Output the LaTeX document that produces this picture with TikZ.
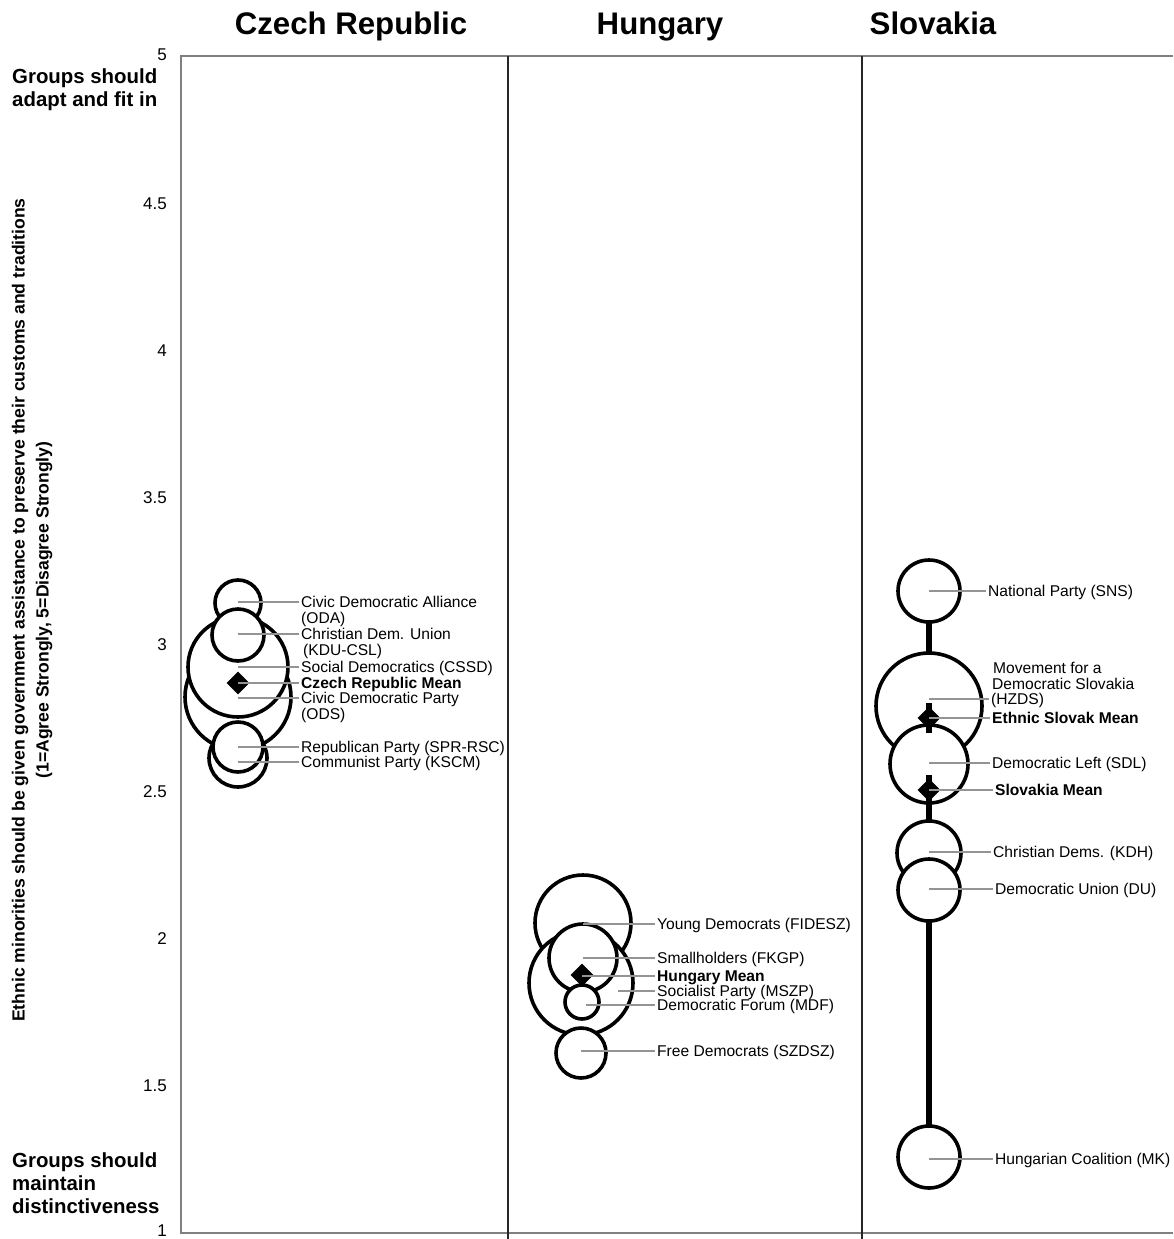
\documentclass[tikz,border=0pt]{standalone}
\usepackage{fontspec}
\setmainfont{Liberation Sans}
\usetikzlibrary{shapes.geometric}
\begin{document}
\begin{tikzpicture}[x=1pt,y=-1pt,
  bubble/.style={circle,draw=black,line width=3.6pt,fill=white,inner sep=0pt,minimum size=#1},
  meanmark/.style={diamond,fill=black,inner sep=0pt,minimum width=23pt,minimum height=23pt},
  lbl/.style={anchor=west,inner sep=0pt,font=\fontsize{15.6}{16}\selectfont,text height=11pt,text depth=0pt},
  blbl/.style={lbl,font=\fontsize{15.6}{16}\selectfont\bfseries},
  conn/.style={draw=black!42,line width=1.5pt,shorten >=2pt},
  tick/.style={anchor=east,inner sep=0pt,font=\fontsize{17}{19}\selectfont,text height=12.2pt,text depth=0pt},
  side/.style={anchor=base west,inner sep=0pt,font=\fontsize{20.4}{22}\selectfont\bfseries},
  ttl/.style={anchor=base,inner sep=0pt,font=\fontsize{31.2}{34}\selectfont\bfseries},
  axt/.style={rotate=90,inner sep=0pt,font=\fontsize{17.6}{19}\selectfont\bfseries},
  frame/.style={draw=black!50,line width=2pt},
  divider/.style={draw=black!85,line width=2.2pt},
  sline/.style={draw=black,line width=6pt}]
\useasboundingbox (0,0) rectangle (1173,1239);
\fill[white] (0,0) rectangle (1173,1239);

% frame
\draw[frame] (1173,56) -- (181,56) -- (181,1233) -- (1173,1233);
\draw[divider] (508,56) -- (508,1239);
\draw[divider] (862,56) -- (862,1239);

% titles
\node[ttl] (tcz) at (351,35) {Czech Republic};
\node[ttl] (thu) at (660,35) {Hungary};
\node[ttl] (tsk) at (933,35) {Slovakia};

% tick labels
\node[tick] (t50) at (167,54) {5};
\node[tick] (t45) at (167,203) {4.5};
\node[tick] (t40) at (167,350) {4};
\node[tick] (t35) at (167,497) {3.5};
\node[tick] (t30) at (167,644) {3};
\node[tick] (t25) at (167,791) {2.5};
\node[tick] (t20) at (167,938) {2};
\node[tick] (t15) at (167,1085) {1.5};
\node[tick] (t10) at (167,1230) {1};

% side labels
\node[side] (ga1) at (12,83) {Groups should};
\node[side] (ga2) at (12,106) {adapt and fit in};
\node[side] (gm1) at (12,1167) {Groups should};
\node[side] (gm2) at (12,1190) {maintain};
\node[side] (gm3) at (12,1213) {distinctiveness};

% axis title
\node[axt] (ax1) at (20,610)
  {Ethnic minorities should be given government assistance to preserve their customs and traditions};
\node[axt] (ax2) at (44,610)
  {(1=Agree Strongly, 5=Disagree Strongly)};

% ---------- Czech Republic ----------
\node[bubble=106pt] (ods) at (238,697) {};
\node[bubble=100pt] (cssd) at (238,667) {};
\node[bubble=46pt] (oda) at (238,603) {};
\node[bubble=52pt] (kdu) at (238,635) {};
\node[bubble=58pt] (kscm) at (238,758) {};
\node[bubble=50pt] (spr) at (238,747) {};
\node[meanmark] (czmean) at (238,683) {};

\node[lbl] (odaL) at (301,602) {Civic Democratic Alliance};
\node[lbl] (odaL2) at (301,618) {(ODA)};
\node[lbl] (kduL) at (301,634) {Christian Dem. Union};
\node[lbl] (kduL2) at (303,650) {(KDU-CSL)};
\node[lbl] (cssdL) at (301,667) {Social Democratics (CSSD)};
\node[blbl] (czmeanL) at (301,683) {Czech Republic Mean};
\node[lbl] (odsL) at (301,698) {Civic Democratic Party};
\node[lbl] (odsL2) at (301,714) {(ODS)};
\node[lbl] (sprL) at (301,747) {Republican Party (SPR-RSC)};
\node[lbl] (kscmL) at (301,762) {Communist Party (KSCM)};

\draw[conn] (oda.center |- odaL.west) -- (odaL.west);
\draw[conn] (kdu.center |- kduL.west) -- (kduL.west);
\draw[conn] (cssd.center |- cssdL.west) -- (cssdL.west);
\draw[conn] (czmean.center |- czmeanL.west) -- (czmeanL.west);
\draw[conn] (ods.center |- odsL.west) -- (odsL.west);
\draw[conn] (spr.center |- sprL.west) -- (sprL.west);
\draw[conn] (kscm.center |- kscmL.west) -- (kscmL.west);

% ---------- Hungary ----------
\node[bubble=96pt] (fidesz) at (583,923) {};
\node[bubble=104pt] (mszp) at (581,983) {};
\node[bubble=68pt] (fkgp) at (583,958) {};
\node[bubble=34pt] (mdf) at (582,1002) {};
\node[bubble=50pt] (szdsz) at (581,1053) {};
\node[meanmark] (humean) at (582,975) {};
\coordinate (mszpP) at (618,991);

\node[lbl] (fideszL) at (657,924) {Young Democrats (FIDESZ)};
\node[lbl] (fkgpL) at (657,958) {Smallholders (FKGP)};
\node[blbl] (humeanL) at (657,976) {Hungary Mean};
\node[lbl] (mszpL) at (657,991) {Socialist Party (MSZP)};
\node[lbl] (mdfL) at (657,1005) {Democratic Forum (MDF)};
\node[lbl] (szdszL) at (657,1051) {Free Democrats (SZDSZ)};

\draw[conn] (fidesz.center |- fideszL.west) -- (fideszL.west);
\draw[conn] (fkgp.center |- fkgpL.west) -- (fkgpL.west);
\draw[conn] (humean.center |- humeanL.west) -- (humeanL.west);
\draw[conn] (mszpP |- mszpL.west) -- (mszpL.west);
\draw[conn] ([xshift=4pt]mdf.center |- mdfL.west) -- (mdfL.west);
\draw[conn] (szdsz.center |- szdszL.west) -- (szdszL.west);

% ---------- Slovakia ----------
\coordinate (sktop) at (929,591);
\coordinate (skbot) at (929,1157);
\draw[sline] (sktop) -- (skbot);
\node[bubble=62pt] (sns) at (sktop) {};
\node[bubble=106pt] (hzds) at (929,706) {};
\node[bubble=78pt] (sdl) at (929,764) {};
\node[bubble=64pt] (kdh) at (929,853) {};
\node[bubble=62pt] (du) at (929,890) {};
\node[bubble=62pt] (mk) at (skbot) {};
\node[meanmark] (esmean) at (929,718) {};
\node[meanmark] (skmean) at (929,790) {};
\draw[sline] (esmean.north) ++(0,-3) -- (esmean.south) -- ++(0,3);
\draw[sline] (skmean.north) ++(0,-3) -- (skmean.south) -- ++(0,3);

\node[lbl] (snsL) at (988,591) {National Party (SNS)};
\node[lbl] (hzdsL1) at (993,668) {Movement for a};
\node[lbl] (hzdsL2) at (992,684) {Democratic Slovakia};
\node[lbl] (hzdsL) at (991,699) {(HZDS)};
\node[blbl] (esmeanL) at (992,718) {Ethnic Slovak Mean};
\node[lbl] (sdlL) at (992,763) {Democratic Left (SDL)};
\node[blbl] (skmeanL) at (995,790) {Slovakia Mean};
\node[lbl] (kdhL) at (993,852) {Christian Dems. (KDH)};
\node[lbl] (duL) at (995,889) {Democratic Union (DU)};
\node[lbl] (mkL) at (995,1159) {Hungarian Coalition (MK)};

\draw[conn] (sns.center |- snsL.west) -- (snsL.west);
\draw[conn] (hzds.center |- hzdsL.west) -- (hzdsL.west);
\draw[conn] (esmean.center |- esmeanL.west) -- (esmeanL.west);
\draw[conn] (sdl.center |- sdlL.west) -- (sdlL.west);
\draw[conn] (skmean.center |- skmeanL.west) -- (skmeanL.west);
\draw[conn] (kdh.center |- kdhL.west) -- (kdhL.west);
\draw[conn] (du.center |- duL.west) -- (duL.west);
\draw[conn] (mk.center |- mkL.west) -- (mkL.west);
\end{tikzpicture}
\end{document}
